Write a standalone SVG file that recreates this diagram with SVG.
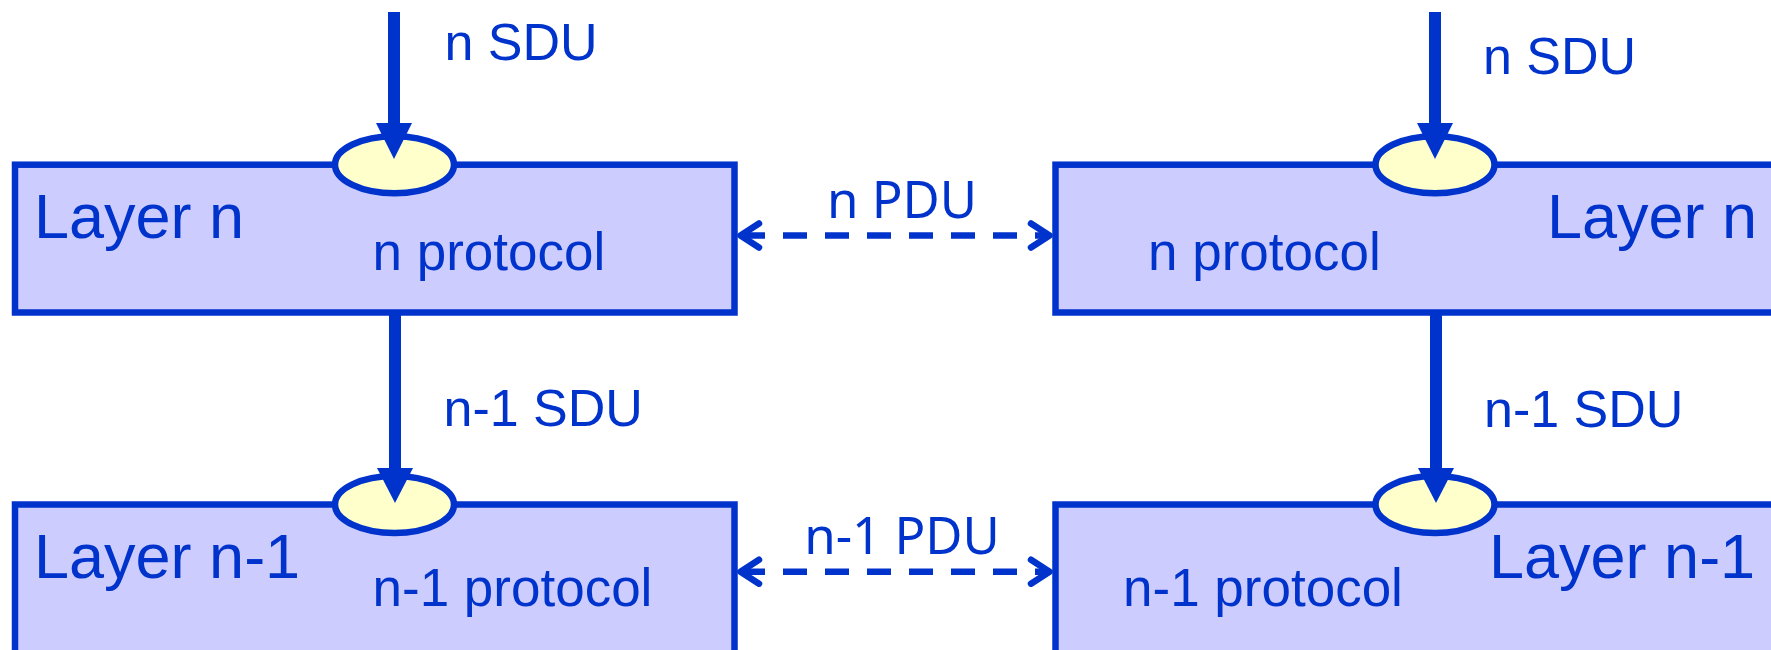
<svg xmlns="http://www.w3.org/2000/svg" width="1771" height="650" viewBox="0 0 1771 650">
  <style>
    .layer { fill: #CCCCFF; stroke: #0033CC; stroke-width: 6.5; }
    .sap { fill: #FFFFCC; stroke: #0033CC; stroke-width: 6.5; }
    .txt { fill: #0033CC; font-family: "Liberation Sans", Arial, sans-serif; }
    .big { font-size: 63px; }
    .mid { font-size: 53px; }
    .sdu { font-size: 52px; }
    .pdu { fill: #0033CC; font-family: "Noto Sans", "Liberation Sans", sans-serif; font-size: 51px; text-anchor: middle; }
    .shaft { stroke: #0033CC; stroke-width: 12; fill: none; }
    .head { fill: #0033CC; }
    .dash { stroke: #0033CC; stroke-width: 6.5; stroke-dasharray: 24 18; fill: none; }
    .chev { stroke: #0033CC; stroke-width: 6.5; fill: none; stroke-linecap: round; stroke-linejoin: round; }
  </style>
  <rect width="1771" height="650" fill="#FFFFFF"/>

  <!-- left stack -->
  <g id="left-layer-n">
    <rect class="layer" x="15" y="164.7" width="719.5" height="147.8"/>
    <ellipse class="sap" cx="394.5" cy="164.7" rx="59.5" ry="28.5"/>
    <text class="txt big" x="34" y="238">Layer n</text>
    <text class="txt mid" x="372.5" y="269.5">n protocol</text>
  </g>
  <g id="left-layer-n-1">
    <rect class="layer" x="15" y="504.5" width="719.5" height="160"/>
    <ellipse class="sap" cx="394.5" cy="504.5" rx="59.5" ry="28.5"/>
    <text class="txt big" x="34" y="578">Layer n-1</text>
    <text class="txt mid" x="372.5" y="606">n-1 protocol</text>
  </g>

  <!-- right stack -->
  <g id="right-layer-n">
    <rect class="layer" x="1055.5" y="164.7" width="730" height="147.8"/>
    <ellipse class="sap" cx="1435" cy="164.7" rx="59.5" ry="28.5"/>
    <text class="txt big" x="1547" y="238">Layer n</text>
    <text class="txt mid" x="1148" y="269.5">n protocol</text>
  </g>
  <g id="right-layer-n-1">
    <rect class="layer" x="1055.5" y="504.5" width="730" height="160"/>
    <ellipse class="sap" cx="1435" cy="504.5" rx="59.5" ry="28.5"/>
    <text class="txt big" x="1489" y="578">Layer n-1</text>
    <text class="txt mid" x="1123" y="606">n-1 protocol</text>
  </g>

  <g id="connectors">
    <!-- service data units passed down -->
    <line class="shaft" x1="394" y1="12" x2="394" y2="126"/>
    <polygon class="head" points="376,123 412,123 394,159"/>
    <text class="txt sdu" x="444.5" y="60">n SDU</text>

    <line class="shaft" x1="395" y1="312" x2="395" y2="471"/>
    <polygon class="head" points="377,468 413,468 395,503"/>
    <text class="txt sdu" x="443.5" y="426">n-1 SDU</text>

    <line class="shaft" x1="1435" y1="12" x2="1435" y2="126"/>
    <polygon class="head" points="1417,123 1453,123 1435,159"/>
    <text class="txt sdu" x="1483" y="74">n SDU</text>

    <line class="shaft" x1="1436" y1="312" x2="1436" y2="471"/>
    <polygon class="head" points="1418,468 1454,468 1436,503"/>
    <text class="txt sdu" x="1484" y="426.5">n-1 SDU</text>

    <!-- peer protocol exchanges -->
    <line class="dash" x1="741" y1="235.5" x2="1050" y2="235.5"/>
    <polyline class="chev" points="759,223.5 740.5,235.5 759,247.5"/>
    <polyline class="chev" points="1031,223.5 1049.5,235.5 1031,247.5"/>
    <text class="pdu" x="902" y="218">n PDU</text>

    <line class="dash" x1="741" y1="571.7" x2="1050" y2="571.7"/>
    <polyline class="chev" points="759,559.7 740.5,571.7 759,583.7"/>
    <polyline class="chev" points="1031,559.7 1049.5,571.7 1031,583.7"/>
    <text class="pdu" x="902" y="554">n-1 PDU</text>
  </g>
</svg>
